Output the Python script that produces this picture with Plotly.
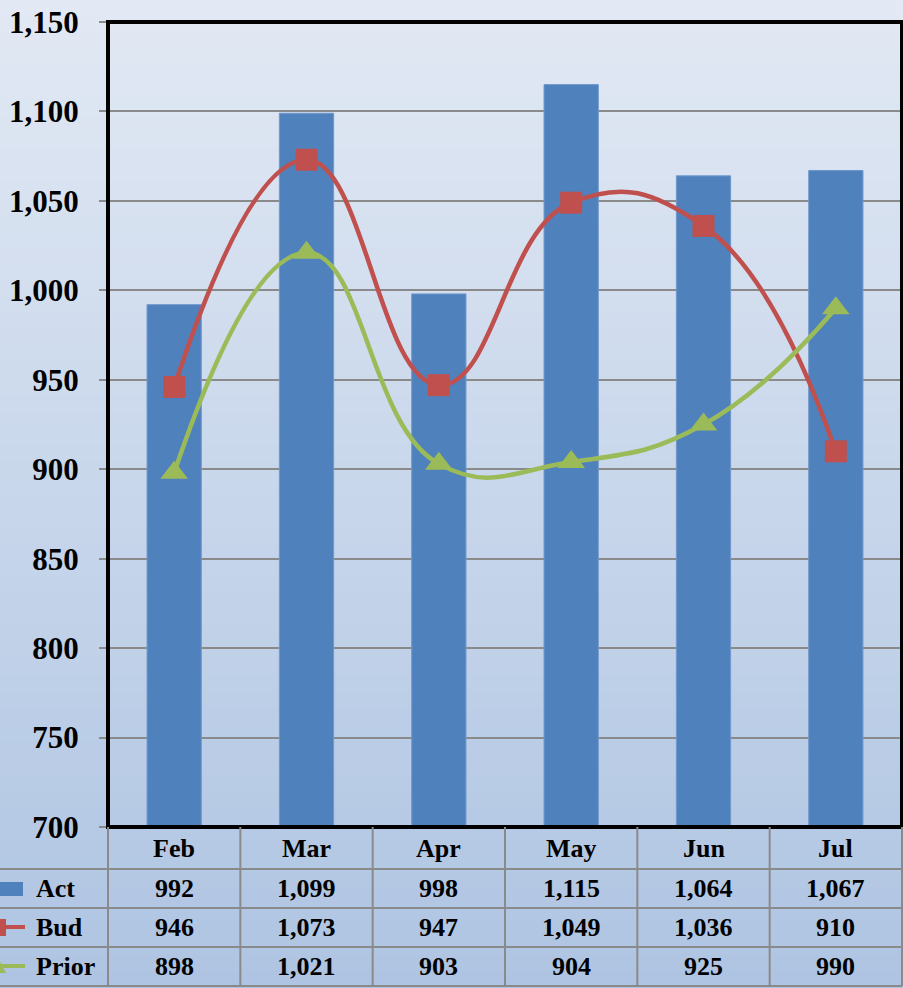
import plotly.graph_objects as go

# Monthly figures
months = ["Feb", "Mar", "Apr", "May", "Jun", "Jul"]
act = [992, 1099, 998, 1115, 1064, 1067]
bud = [946, 1073, 947, 1049, 1036, 910]
prior = [898, 1021, 903, 904, 925, 990]
y_ticks = [700, 750, 800, 850, 900, 950, 1000, 1050, 1100, 1150]

W, H = 903, 988
L, R, T, B = 108, 1, 22, 161
PW, PH = W - L - R, H - T - B

BLUE = "#4F81BD"
RED = "#C0504D"
GREEN = "#9BBB59"
FONT = "Liberation Serif"


def px_x(px):
    return (px - L) / PW


def px_y(py):
    return (H - B - py) / PH


x = list(range(len(months)))

fig = go.Figure()
fig.add_bar(x=x, y=act, name="Act", marker=dict(color=BLUE, line=dict(color="#7098cc", width=1)),
            width=0.41)
fig.add_scatter(x=x, y=bud, name="Bud", mode="lines+markers",
                line=dict(color=RED, width=4.5, shape="spline", smoothing=1.3),
                marker=dict(symbol="square", size=22, color=RED))
fig.add_scatter(x=x, y=prior, name="Prior", mode="lines+markers",
                line=dict(color=GREEN, width=4.5, shape="spline", smoothing=1.3),
                marker=dict(symbol="triangle-up", size=24, color=GREEN))

shapes = []
# vertical gradient background
top_c = (226, 233, 244)
bot_c = (174, 196, 226)
n = 60
for i in range(n):
    t = (i + 0.5) / n
    c = tuple(round(top_c[k] + (bot_c[k] - top_c[k]) * t) for k in range(3))
    y0 = i * H / n
    y1 = (i + 1) * H / n + 1
    shapes.append(dict(type="rect", xref="paper", yref="paper", layer="below",
                       x0=px_x(-2), x1=px_x(W + 2), y0=px_y(y1), y1=px_y(y0),
                       line=dict(width=0), fillcolor="rgb(%d,%d,%d)" % c))

# plot frame
shapes.append(dict(type="rect", xref="paper", yref="paper", x0=0, x1=1, y0=0, y1=1,
                   line=dict(color="black", width=4), layer="above"))

# data table grid
GRID = "#8a8a8a"
row_lines = [869, 908, 947, 986]
for yy in row_lines:
    shapes.append(dict(type="line", xref="paper", yref="paper", x0=px_x(0), x1=px_x(W - 1),
                       y0=px_y(yy), y1=px_y(yy), line=dict(color=GRID, width=2)))
for i in range(len(months) + 1):
    xp = i / len(months)
    shapes.append(dict(type="line", xref="paper", yref="paper", x0=xp, x1=xp,
                       y0=px_y(827), y1=px_y(986), line=dict(color=GRID, width=2)))

# legend keys in the table's first column
shapes.append(dict(type="rect", xref="paper", yref="paper", x0=px_x(-2), x1=px_x(23),
                   y0=px_y(896), y1=px_y(882), line=dict(width=0), fillcolor=BLUE))
shapes.append(dict(type="line", xref="paper", yref="paper", x0=px_x(0), x1=px_x(25),
                   y0=px_y(927), y1=px_y(927), line=dict(color=RED, width=4)))
shapes.append(dict(type="rect", xref="paper", yref="paper", x0=px_x(-6), x1=px_x(6),
                   y0=px_y(936), y1=px_y(919), line=dict(width=0), fillcolor=RED))
shapes.append(dict(type="line", xref="paper", yref="paper", x0=px_x(0), x1=px_x(25),
                   y0=px_y(966), y1=px_y(966), line=dict(color=GREEN, width=4)))
shapes.append(dict(type="path", xref="paper", yref="paper",
                   path="M %f,%f L %f,%f L %f,%f Z" % (px_x(-8), px_y(973), px_x(6), px_y(973),
                                                     px_x(-1), px_y(960)),
                   line=dict(width=0), fillcolor=GREEN))

annotations = []
tfont = dict(family=FONT, size=26, color="black")
row_y = {"hdr": 848, "Act": 888, "Bud": 927, "Prior": 966}
for i, m in enumerate(months):
    xp = (i + 0.5) / len(months)
    annotations.append(dict(x=xp, y=px_y(row_y["hdr"]), xref="paper", yref="paper",
                            text="<b>%s</b>" % m, showarrow=False, font=tfont,
                            xanchor="center", yanchor="middle"))
    for name, vals in (("Act", act), ("Bud", bud), ("Prior", prior)):
        annotations.append(dict(x=xp, y=px_y(row_y[name]), xref="paper", yref="paper",
                                text="<b>{:,}</b>".format(vals[i]), showarrow=False, font=tfont,
                                xanchor="center", yanchor="middle"))
for name in ("Act", "Bud", "Prior"):
    annotations.append(dict(x=px_x(34), y=px_y(row_y[name]), xref="paper", yref="paper",
                            text="<b>%s</b>" % name, showarrow=False, font=tfont,
                            xanchor="left", yanchor="middle"))

fig.update_layout(
    width=W, height=H,
    margin=dict(l=L, r=R, t=T, b=B, pad=0),
    paper_bgcolor="rgba(0,0,0,0)",
    plot_bgcolor="rgba(0,0,0,0)",
    showlegend=False,
    shapes=shapes,
    annotations=annotations,
    xaxis=dict(range=[-0.5, len(months) - 0.5], showticklabels=False, showgrid=False,
               zeroline=False, ticks="", showline=False, fixedrange=True),
    yaxis=dict(range=[700, 1150], tickvals=y_ticks, tickformat=",", showgrid=True,
               gridcolor=GRID, gridwidth=2, zeroline=False, showline=False,
               ticks="outside", ticklen=8, tickwidth=2, tickcolor=GRID,
               ticklabelstandoff=14,
               tickfont=dict(family=FONT, size=31, color="black", weight="bold")),
)

fig.write_html("out.html")
